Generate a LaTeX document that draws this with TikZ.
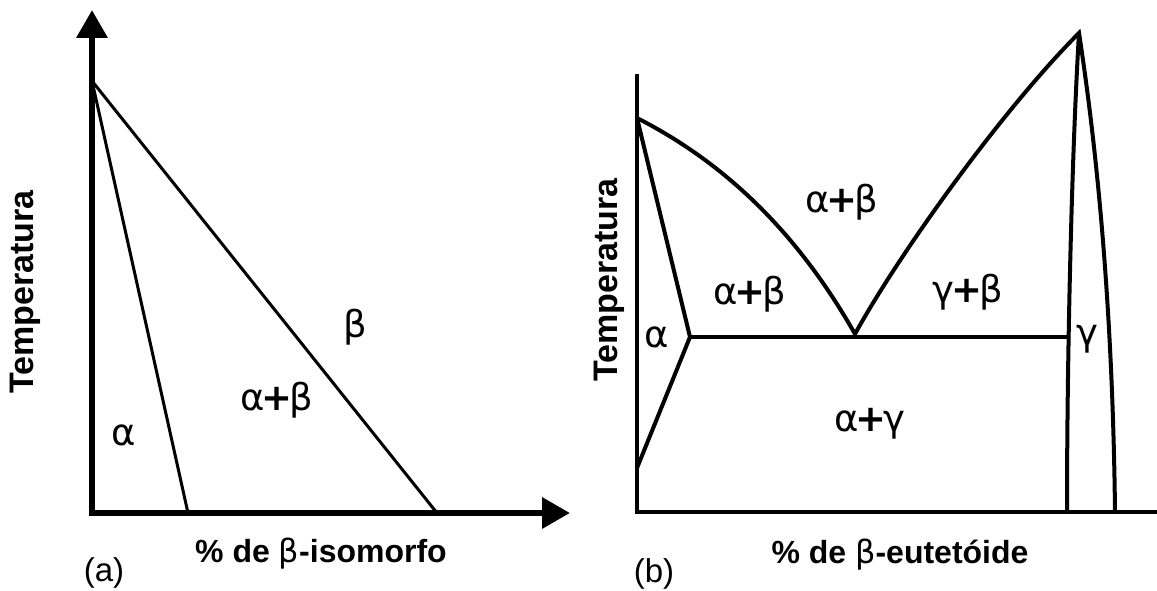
\documentclass[tikz,border=0pt]{standalone}
\usepackage{fontspec}
\setmainfont{Liberation Sans}
\newfontfamily\gr{DejaVu Sans}
\usetikzlibrary{arrows.meta}
\tikzset{
  axisA/.style={line width=6.5pt, line join=miter},
  thinA/.style={line width=3pt},
  lineB/.style={line width=4.5pt, line join=miter},
  curveB/.style={line width=4pt, line join=miter},
  axlabel/.style={font=\fontsize{32}{38}\selectfont\bfseries, inner sep=0},
  ylabel/.style={font=\fontsize{34}{40}\selectfont\bfseries, inner sep=0, rotate=90},
  phase/.style={font=\gr\fontsize{37}{40}\selectfont, inner sep=0},
  panel/.style={font=\fontsize{33}{40}\selectfont, inner sep=0, anchor=base},
  tipA/.tip={Triangle[length=28pt,width=30pt]}
}
\newcommand{\plusb}{\kern-3pt{\bfseries+}\kern-3pt}
\begin{document}
\begin{tikzpicture}[x=1pt,y=-1pt]
\useasboundingbox (0,0) rectangle (1157,591);
% ---------- (a) ----------
\coordinate (aO) at (92,513);
\coordinate (aY) at (92,10);
\coordinate (aX) at (570,513);
\coordinate (aTop) at (92,81);
\coordinate (aS) at (188,513);
\coordinate (aL) at (437,513);
\draw[thinA] (aTop) -- (aS);
\draw[thinA] (aTop) -- (aL);
\draw[axisA, tipA-tipA] (aY) -- (aO) -- (aX);
\node[phase] (a1) at (124,435) {α};
\node[phase] (a2) at (277,400) {α\plusb β};
\node[phase] (a3) at (355,327) {β};
\node[axlabel, anchor=base] (xa) at (321,562) {\% de {\gr\mdseries β}-isomorfo};
\node[ylabel] (ya) at (25,292) {Temperatura};
\node[panel] (pa) at (104,581) {(a)};
% ---------- (b) ----------
\coordinate (bTop) at (637,74);
\coordinate (bO) at (637,512);
\coordinate (bX) at (1157,512);
\coordinate (bA) at (637,118);
\coordinate (bV) at (690,337);
\coordinate (bLow) at (637,468);
\coordinate (bE) at (855,334);
\coordinate (bP) at (1079,33);
\coordinate (bG) at (1067,337);
\coordinate (bGL) at (1067,512);
\coordinate (bGR) at (1115,512);
\draw[lineB] (bTop) -- (bO) -- (bX);
\draw[curveB] (bA) -- (bV) -- (bLow);
\draw[curveB] (bV) -- (bG);
\draw[curveB] (bA) .. controls (737,169) and (805,246) .. (bE)
   .. controls (900,252) and (1004,108) .. (bP)
   .. controls (1100,170) and (1113,330) .. (bGR);
\draw[curveB] (bP) .. controls (1072,150) and (1067,350) .. (bGL);
\node[phase] (b1) at (657,337) {α};
\node[phase] (b2) at (842,202) {α\plusb β};
\node[phase] (b3) at (750,294) {α\plusb β};
\node[phase] (b4) at (968,292) {γ\plusb β};
\node[phase] (b5) at (1087,339) {γ};
\node[phase] (b6) at (870,424) {α\plusb γ};
\node[axlabel, anchor=base] (xb) at (900,563) {\% de {\gr\mdseries β}-eutetóide};
\node[ylabel] (yb) at (609,280) {Temperatura};
\node[panel] (pb) at (654,582) {(b)};
\end{tikzpicture}
\end{document}
